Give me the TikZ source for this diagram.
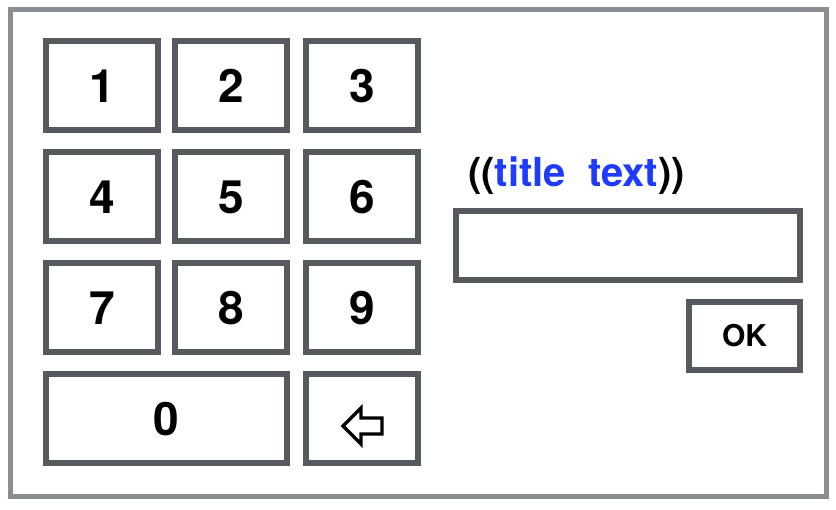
\documentclass[tikz,border=0pt]{standalone}
\usepackage{fontspec}
\setmainfont{TeX Gyre Heros}
\definecolor{framegray}{HTML}{8A8D91}
\definecolor{keygray}{HTML}{56595E}
\definecolor{titleblue}{HTML}{1E3CFF}
\tikzset{
  key/.style={draw=keygray, line width=6pt, fill=white, minimum width=112pt,
    minimum height=89pt, inner sep=0pt, font=\fontsize{46}{46}\selectfont\bfseries},
  field/.style={draw=keygray, line width=6pt, inner sep=0pt},
  backarrow/.style={draw=black, line width=3.4pt, line join=miter}
}
\begin{document}
\begin{tikzpicture}[x=1pt, y=-1pt]
      \useasboundingbox (0,0) rectangle (836,510);
      % Frame
      \draw[framegray, line width=5pt] (10,10) rectangle (826,497);

      % Keypad
      \node[key] (k1) at (102,86) {1};
      \node[key] (k2) at (231,86) {2};
      \node[key] (k3) at (362,86) {3};
      \node[key] (k4) at (102,197) {4};
      \node[key] (k5) at (231,197) {5};
      \node[key] (k6) at (362,197) {6};
      \node[key] (k7) at (102,308) {7};
      \node[key] (k8) at (231,308) {8};
      \node[key] (k9) at (362,308) {9};
      \node[key, minimum width=241pt] (k0) at (166.5,419) {0};
      \node[key] (back) at (362,419) {};
      \draw[backarrow, shift={(back.center)}] (-19,7) -- (-1,-11) -- (-1,-1) -- (20,-1)
        -- (20,15) -- (-1,15) -- (-1,25) -- cycle;

      % Input
      \node[inner sep=0pt, font=\fontsize{40}{40}\selectfont\bfseries] (title) at (576.5,176)
        {((\textcolor{titleblue}{title\ \ text}))};
      \node[field, minimum width=344pt, minimum height=69pt] (input) at (628,245.5) {};
      \node[field, minimum width=111pt, minimum height=68pt,
        font=\fontsize{30}{30}\selectfont\bfseries] (ok) at (744.5,336) {OK};
\end{tikzpicture}
\end{document}
